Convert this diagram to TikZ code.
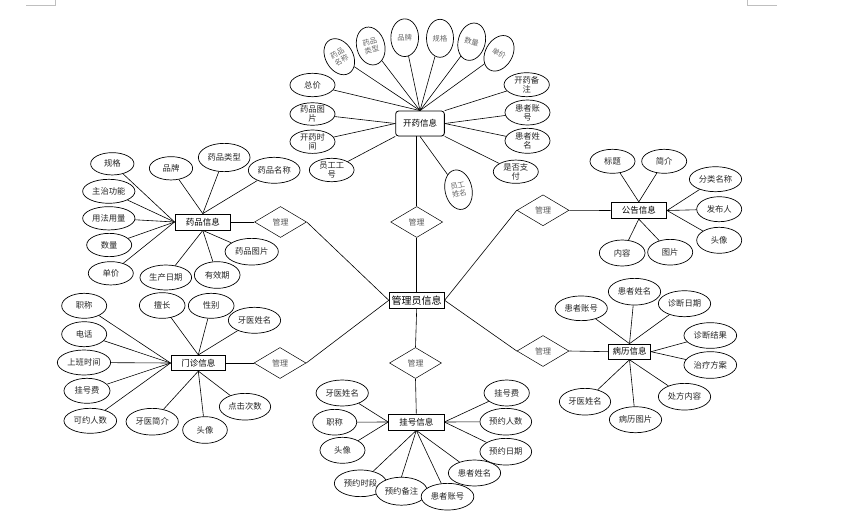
\documentclass[tikz,border=0pt]{standalone}
\usepackage{fontspec}
\newfontfamily\cjk{Noto Sans CJK SC}
\usetikzlibrary{shapes.geometric,shadows}
\newcommand\attrnode[5]{%
  \node[attr, minimum width=#3pt, minimum height=#4pt] (#1) at (#2) {};
  \node[atxt] (#1-t) at (#1.center) {#5};}
\newcommand\rotattr[6]{%
  \node[attr, rotate=#1, minimum width=#4pt, minimum height=#5pt] (#2) at (#3) {};
  \node[atxt, rotate=#1, text=black!60, font=\cjk\fontsize{7.3}{8.6}\selectfont] (#2-t) at (#2.center) {#6};}
\begin{document}
\begin{tikzpicture}[x=1pt,y=-1pt,
  attr/.style={ellipse, draw, fill=white, inner sep=0pt, line width=0.7pt},
  atxt/.style={font=\cjk\fontsize{8.3}{9.3}\selectfont, align=center, inner sep=0pt, text=black!85},
  ent/.style={draw, line width=0.8pt, fill=white, font=\cjk\fontsize{8.5}{10}\selectfont, inner sep=0pt,
    drop shadow={shadow xshift=0.7pt, shadow yshift=-0.7pt, fill=black!35}},
  rel/.style={diamond, draw, fill=white, line width=0.5pt, inner sep=0pt, minimum width=52pt,
    minimum height=31pt, font=\cjk\fontsize{8}{9}\selectfont, text=black!65},
  conn/.style={draw, line width=0.6pt}
]
\useasboundingbox (0,0) rectangle (844,515);
\draw[black!25, line width=0.6pt] (26,5.3) -- (55.3,5.3) -- (55.3,0);
\draw[black!25, line width=0.6pt] (747.3,0) -- (747.3,5.3) -- (776.7,5.3);

% entities
\node[ent, minimum width=55pt, minimum height=15.5pt, font=\cjk\fontsize{10}{12}\selectfont] (adm) at (416.7,300.3) {管理员信息};
\node[ent, minimum width=55.7pt, minimum height=16pt] (yp) at (202.8,222) {药品信息};
\node[ent, minimum width=48.7pt, minimum height=25pt, rounded corners=3pt] (ky) at (420,123.5) {开药信息};
\node[ent, minimum width=55.7pt, minimum height=16.4pt] (gg) at (638.8,210.5) {公告信息};
\node[ent, minimum width=54.7pt, minimum height=15.4pt] (mz) at (198.3,363) {门诊信息};
\node[ent, minimum width=55.3pt, minimum height=16pt] (gh) at (416.3,422) {挂号信息};
\node[ent, minimum width=42.3pt, minimum height=15.3pt] (bl) at (629.5,351.7) {病历信息};

% relations
\node[rel] (d1) at (280.5,222) {管理};
\node[rel] (d2) at (416.7,222) {管理};
\node[rel] (d3) at (543,210.3) {管理};
\node[rel] (d4) at (280,363) {管理};
\node[rel] (d5) at (415.5,363) {管理};
\node[rel] (d6) at (543,351) {管理};

\draw[conn] (d2.south) -- (adm.north);
\draw[conn] (d1.east) -- (adm.west);
\draw[conn] (d3.west) -- (adm.east);
\draw[conn] (d4.east) -- (adm.west);
\draw[conn] (d6.west) -- (adm.east);
\draw[conn] (d5.north) -- (adm.south);
\draw[conn] (d2.north) -- (d2.north |- ky.south);
\draw[conn] (d1.west) -- (yp.east);
\draw[conn] (d3.east) -- (gg.west);
\draw[conn] (d4.west) -- (mz.east);
\draw[conn] (d5.south) -- (gh.north);
\draw[conn] (d6.east) -- (bl.west);

% ---- 开药信息 attributes
\rotattr{30}{kya}{339.3,56.7}{27.5}{38.5}{药品\\名称}
\rotattr{15}{kyb}{370.7,46}{28}{38.5}{药品\\类型}
\rotattr{0}{kyc}{404.7,37.7}{27.7}{37.7}{品牌}
\rotattr{0}{kyd}{440,38.3}{27}{38}{规格}
\rotattr{-15}{kye}{471.7,41.7}{27}{38}{数量}
\rotattr{-30}{kyf}{499,53.3}{27}{38}{单价}
\rotattr{12}{kyg}{458.5,189.7}{27}{40}{员工\\姓名}
\attrnode{kyh}{312.5,85}{45}{23.4}{总价}
\attrnode{kyi}{312.5,114}{45}{22.5}{药品图\\片}
\attrnode{kyj}{312.5,141.7}{45}{23.4}{开药时\\间}
\attrnode{kyk}{331.7,170}{44.7}{23.4}{员工工\\号}
\attrnode{kyl}{526.7,84.7}{45.3}{24}{开药备\\注}
\attrnode{kym}{527.5,112.5}{45}{25}{患者账\\号}
\attrnode{kyn}{527.5,140.8}{45}{25}{患者姓\\名}
\attrnode{kyo}{515.8,171.7}{45}{23.3}{是否支\\付}
\foreach \a in {kya,kyb,kyc,kyd,kye,kyf,kyh} \draw[conn] (\a) -- (ky.north);
\draw[conn] (kyi) -- (ky.west);
\draw[conn] (kyj) -- (ky.west);
\draw[conn] (kyk) -- (ky.south west);
\draw[conn] (kyl) -- (ky.north east);
\draw[conn] (kym) -- (ky.east);
\draw[conn] (kyn) -- (ky.east);
\draw[conn] (kyo) -- (ky.south east);
\draw[conn] (kyg) -- (ky.south);

% ---- 药品信息 attributes
\attrnode{ypa}{112.3,163.8}{43.3}{22.3}{规格}
\attrnode{ypb}{171,168.3}{43.3}{23.3}{品牌}
\attrnode{ypc}{224.2,157.5}{51.7}{28.3}{药品类型}
\attrnode{ypd}{274.2,170.3}{51.7}{26}{药品名称}
\attrnode{ype}{108.8,191.3}{52.3}{24}{主治功能}
\attrnode{ypf}{108.8,218.3}{52.3}{23.3}{用法用量}
\attrnode{ypg}{109.2,245}{45}{23.3}{数量}
\attrnode{yph}{110.8,273.3}{45}{23.3}{单价}
\attrnode{ypi}{165.8,277.5}{51.7}{25}{生产日期}
\attrnode{ypj}{217.2,275}{45.7}{26.7}{有效期}
\attrnode{ypk}{251.7,251.7}{53.3}{26.7}{药品图片}
\foreach \a in {ypa,ype,ypf,ypg,yph} \draw[conn] (\a) -- (yp.west);
\foreach \a in {ypb,ypc,ypd} \draw[conn] (\a) -- (yp.north);
\foreach \a in {ypi,ypj,ypk} \draw[conn] (\a) -- (yp.south);

% ---- 门诊信息 attributes
\attrnode{mza}{84.2,305.8}{45}{25}{职称}
\attrnode{mzb}{84.2,334.2}{45}{25}{电话}
\attrnode{mzc}{84,362.5}{53.3}{25}{上班时间}
\attrnode{mzd}{87,390.8}{46}{25}{挂号费}
\attrnode{mze}{90.3,420.8}{52.7}{25}{可约人数}
\attrnode{mzf}{162.2,305.5}{45.7}{25.7}{擅长}
\attrnode{mzg}{211.2,305.8}{45.7}{25}{性别}
\attrnode{mzh}{254.5,320.3}{52.3}{26}{牙医姓名}
\attrnode{mzi}{152.2,421.7}{52.3}{26.7}{牙医简介}
\attrnode{mzj}{205,430}{44.7}{26.7}{头像}
\attrnode{mzk}{245,406.7}{51.3}{26.7}{点击次数}
\foreach \a in {mza,mzb,mzc,mzd,mze} \draw[conn] (\a) -- (mz.west);
\foreach \a in {mzf,mzg,mzh} \draw[conn] (\a) -- (mz.north);
\foreach \a in {mzi,mzj,mzk} \draw[conn] (\a) -- (mz.south);

% ---- 挂号信息 attributes
\attrnode{gha}{342.2,393}{52.3}{26}{牙医姓名}
\attrnode{ghb}{334.7,422.2}{44}{25.7}{职称}
\attrnode{ghc}{342.5,450.3}{45}{26}{头像}
\attrnode{ghd}{506.7,393}{45.3}{26}{挂号费}
\attrnode{ghe}{505.8,421.7}{51.7}{26.7}{预约人数}
\attrnode{ghf}{505.8,451.7}{51.7}{26.7}{预约日期}
\attrnode{ghg}{474.5,473}{52.3}{26}{患者姓名}
\attrnode{ghh}{360.5,483.3}{52.3}{26.7}{预约时段}
\attrnode{ghi}{401.5,491.2}{51.7}{28}{预约备注}
\attrnode{ghj}{447.5,496.7}{52.7}{26.7}{患者账号}
\foreach \a in {gha,ghb,ghc} \draw[conn] (\a) -- (gh.west);
\foreach \a in {ghd,ghe,ghf} \draw[conn] (\a) -- (gh.east);
\draw[conn] (ghg) -- (gh.south);
\draw[conn] (ghh) -- (gh.south);
\draw[conn] (ghi.north) -- (gh.south);
\draw[conn] (ghj) -- (gh.south);

% ---- 公告信息 attributes
\attrnode{gga}{612.5,161.3}{45}{24}{标题}
\attrnode{ggb}{664.2,161.3}{45}{24}{简介}
\attrnode{ggc}{715.5,179.2}{52.3}{25}{分类名称}
\attrnode{ggd}{719.2,209.2}{45}{25}{发布人}
\attrnode{gge}{719.2,240.3}{45}{26}{头像}
\attrnode{ggf}{622.2,253}{45.7}{26}{内容}
\attrnode{ggg}{670.2,252.2}{45}{25.7}{图片}
\foreach \a in {gga,ggb} \draw[conn] (\a) -- (gg.north);
\foreach \a in {ggc,ggd,gge} \draw[conn] (\a) -- (gg.east);
\foreach \a in {ggf,ggg} \draw[conn] (\a) -- (gg.south);

% ---- 病历信息 attributes
\attrnode{bla}{581.2,308.3}{52.3}{24.7}{患者账号}
\attrnode{blb}{634.5,291.7}{52.3}{26.7}{患者姓名}
\attrnode{blc}{684.5,303.7}{52.3}{26}{诊断日期}
\attrnode{bld}{710.3,335.5}{52.7}{25.7}{诊断结果}
\attrnode{ble}{710.3,365}{52.7}{26.7}{治疗方案}
\attrnode{blf}{684.5,396.7}{52.3}{26.7}{处方内容}
\attrnode{blg}{635.5,419.7}{52.3}{26}{病历图片}
\attrnode{blh}{585,401.7}{51.3}{26.7}{牙医姓名}
\foreach \a in {bla,blb,blc} \draw[conn] (\a) -- (bl.north);
\foreach \a in {bld,ble} \draw[conn] (\a) -- (bl.east);
\foreach \a in {blf,blg,blh} \draw[conn] (\a) -- (bl.south);
\end{tikzpicture}
\end{document}
